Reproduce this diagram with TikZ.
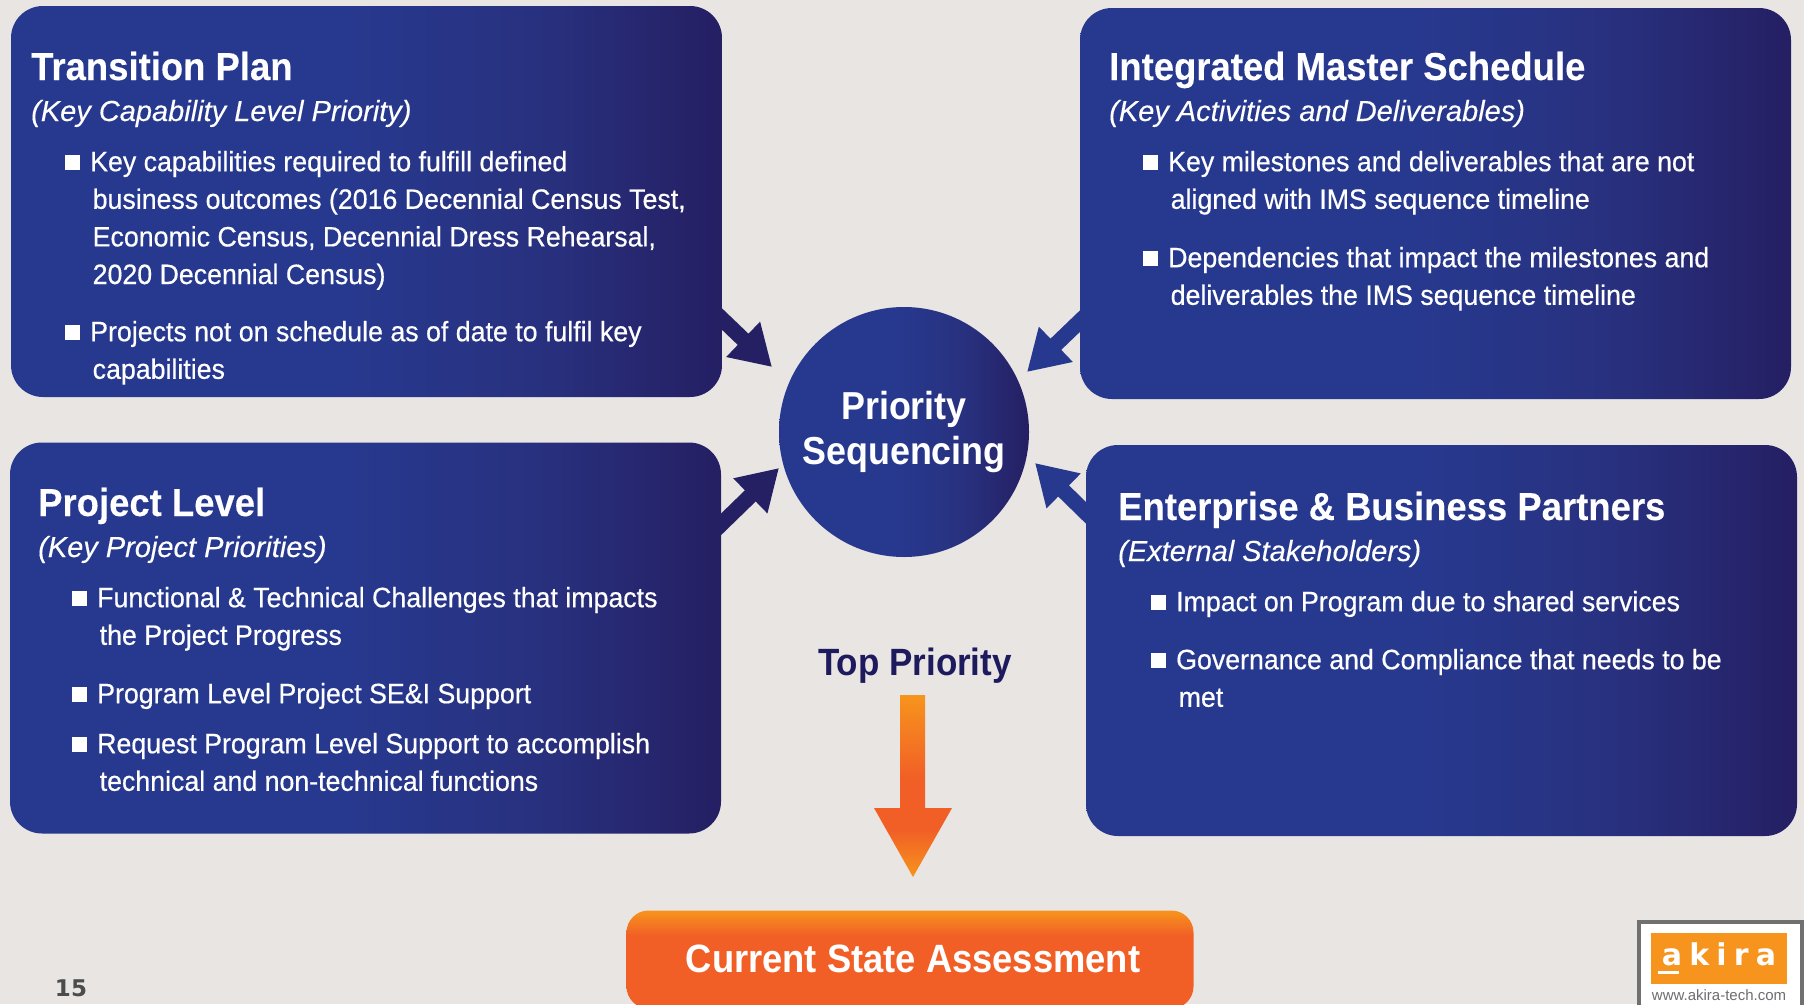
\documentclass[tikz,border=0pt]{standalone}
\usepackage{fontspec}
\usetikzlibrary{arrows.meta,calc}
\setmainfont{Liberation Sans}
\newfontfamily\titlef[FakeStretch=0.92]{Liberation Sans}
\newfontfamily\headf[FakeStretch=0.935,FakeBold=0.15]{Liberation Sans}
\newfontfamily\subf[FakeBold=0.2]{Liberation Sans}
\newfontfamily\bodyf[FakeStretch=0.955,FakeBold=0.5]{Liberation Sans}
\newfontfamily\logof[LetterSpace=24]{DejaVu Sans}
\newfontfamily\pagef{DejaVu Sans}
\definecolor{bg}{HTML}{E8E5E3}
\definecolor{navyL}{HTML}{27398F}
\definecolor{navyM}{HTML}{28317F}
\definecolor{navyR}{HTML}{251F63}
\definecolor{orangeA}{HTML}{F7941D}
\definecolor{orangeB}{HTML}{F15F26}
\definecolor{inkblue}{HTML}{1E1A5E}
\definecolor{framegray}{HTML}{707070}
\definecolor{urlgray}{HTML}{6D6E71}
\pgfdeclarehorizontalshading{panelshade}{100bp}{color(0bp)=(navyL); color(25bp)=(navyL); color(48bp)=(navyL); color(62bp)=(navyM); color(75bp)=(navyR); color(100bp)=(navyR)}
\pgfdeclareverticalshading{boxshade}{100bp}{color(0bp)=(orangeB); color(50bp)=(orangeB); color(62bp)=(orangeB); color(75bp)=(orangeA); color(100bp)=(orangeA)}
\pgfdeclareverticalshading{shaftshade}{100bp}{color(0bp)=(orangeA); color(25bp)=(orangeA); color(38bp)=(orangeB); color(52bp)=(orangeB); color(75bp)=(orangeA); color(100bp)=(orangeA)}
\tikzset{
  panel/.style={rectangle,rounded corners=32pt,shading=panelshade,minimum width=711pt,minimum height=391pt,inner sep=0pt},
  priority/.style={circle,shading=panelshade,minimum size=250pt,inner sep=0pt,text=white,align=center,
    font=\fontsize{39}{45}\selectfont\titlef\bfseries},
  titletext/.style={anchor=base west,inner sep=0pt,text=white,font=\fontsize{39}{44}\selectfont\headf\bfseries},
  subtext/.style={anchor=base west,inner sep=0pt,text=white,font=\fontsize{29}{34}\selectfont\subf\itshape},
  bodytext/.style={anchor=north west,inner sep=0pt,text=white,align=left,yshift=25pt,font=\fontsize{28}{37.6}\selectfont\bodyf},
  bulletbox/.style={rectangle,fill=white,minimum size=15pt,inner sep=0pt},
  feedL/.style={draw=navyR,line width=15.5pt,-{Triangle[length=40pt,width=46pt]}},
  feedR/.style={draw=navyL,line width=15.5pt,-{Triangle[length=40pt,width=46pt]}},
}
\newcommand{\para}[4]{%
  \node[bodytext] (#1) at (#2,#3) {\rule{0pt}{25pt}#4};
  \node[bulletbox] (#1b) at ({#2-17.5},{#3-9}) {};}
\newcommand{\cont}{\\\hspace*{2.5pt}}
\begin{document}
\begin{tikzpicture}[x=1pt,y=-1pt]
\useasboundingbox (0,0) rectangle (1804,1004);
\fill[bg] (0,0) rectangle (1804,1004);

% panels
\node[panel] (tl) at (366.5,201.5) {};
\node[panel] (tr) at (1435.5,203.5) {};
\node[panel] (bl) at (365.5,638) {};
\node[panel] (br) at (1441.5,640.5) {};

% Transition Plan
\node[titletext] (tlt) at (31,80) {Transition Plan};
\node[subtext] (tls) at (31,121) {(Key Capability Level Priority)};
\para{tla}{90}{171}{Key capabilities required to fulfill defined\cont business outcomes (2016 Decennial Census Test,\cont Economic Census, Decennial Dress Rehearsal,\cont 2020 Decennial Census)}
\para{tlc}{90}{341}{Projects not on schedule as of date to fulfil key\cont capabilities}

% Integrated Master Schedule
\node[titletext] (trt) at (1109,80) {Integrated Master Schedule};
\node[subtext] (trs) at (1109,121) {(Key Activities and Deliverables)};
\para{tra}{1168}{171}{Key milestones and deliverables that are not\cont aligned with IMS sequence timeline}
\para{trc}{1168}{267}{Dependencies that impact the milestones and\cont deliverables the IMS sequence timeline}

% Project Level
\node[titletext] (blt) at (38,516) {Project Level};
\node[subtext] (bls) at (38,557) {(Key Project Priorities)};
\para{bla}{97}{607}{Functional \& Technical Challenges that impacts\cont the Project Progress}
\para{blc}{97}{703}{Program Level Project SE\&I Support}
\para{bld}{97}{753}{Request Program Level Support to accomplish\cont technical and non-technical functions}

% Enterprise
\node[titletext] (brt) at (1118,520) {Enterprise \& Business Partners};
\node[subtext] (brs) at (1118,561) {(External Stakeholders)};
\para{bra}{1176}{611}{Impact on Program due to shared services}
\para{brc}{1176}{669}{Governance and Compliance that needs to be\cont met}

% centre
\node[priority] (pri) at (904,432) {Priority\\Sequencing};

% connectors
\coordinate (tip1) at ($(pri.center)+(-132,-65)$);
\coordinate (tip2) at ($(pri.center)+(123,-60)$);
\coordinate (tip3) at ($(pri.center)+(-125,36)$);
\coordinate (tip4) at ($(pri.center)+(131,31)$);
\coordinate (out1) at ($(tl.east)+(-6,112)$);
\coordinate (out2) at ($(tr.west)+(6,112)$);
\coordinate (out3) at ($(bl.east)+(-6,-108)$);
\coordinate (out4) at ($(br.west)+(6,-122)$);
\draw[feedL] (out1) -- (tip1);
\draw[feedR] (out2) -- (tip2);
\draw[feedL] (out3) -- (tip3);
\draw[feedR] (out4) -- (tip4);

% top priority
\node[anchor=base,inner sep=0pt,text=inkblue,font=\fontsize{38}{44}\selectfont\titlef\bfseries] (top) at (915,675) {Top Priority};
\node[rectangle,rounded corners=22pt,shading=boxshade,minimum width=567pt,minimum height=98pt,inner sep=0pt] (csa) at (910,959.5) {};
\node[anchor=base,inner sep=0pt,text=white,font=\fontsize{39.5}{44}\selectfont\titlef\bfseries] (csat) at (913,972) {Current State Assessment};
\coordinate (ta) at (912.5,695);
\coordinate (tb) at (913,877);
\path[shading=shaftshade] ($(ta)+(-12.5,0)$) -- ($(ta)+(12.5,0)$) -- ($(ta)+(12.5,113)$) -- ($(ta)+(39.5,113)$) -- (tb) -- ($(ta)+(-38.5,113)$) -- ($(ta)+(-12.5,113)$) -- cycle;

% page number
\node[anchor=base,inner sep=0pt,text=black!70,font=\fontsize{23}{26}\selectfont\pagef\bfseries] (page) at (71,996) {15};

% logo
\draw[draw=framegray,fill=white,line width=4.5pt] (1639,922) rectangle (1802,1012);
\node[rectangle,fill=orangeA,minimum width=136pt,minimum height=51pt,inner sep=0pt] (logo) at (1719,958.5) {};
\node[anchor=base,inner sep=0pt,text=white,font=\fontsize{30}{36}\selectfont\logof\bfseries] (logot) at (1719,965) {akira};
\fill[white] (1658,970.5) rectangle (1679,974);
\node[anchor=base,inner sep=0pt,text=urlgray,font=\fontsize{15}{18}\selectfont] (url) at (1719,1000) {www.akira-tech.com};
\end{tikzpicture}
\end{document}
